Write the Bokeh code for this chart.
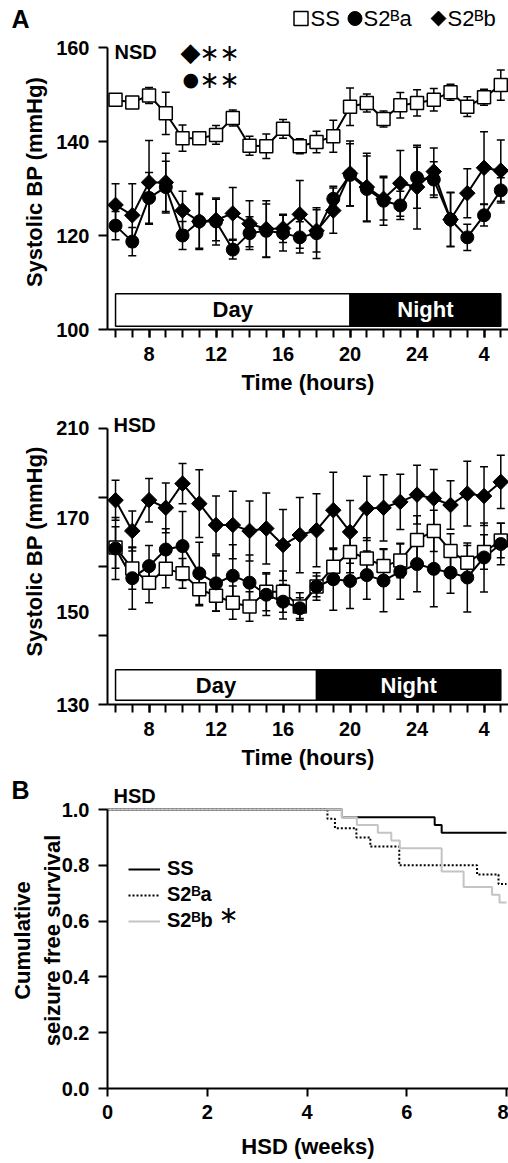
import numpy as np
from bokeh.plotting import figure
from bokeh.models import (ColumnDataSource, FixedTicker, Label, Legend, LegendItem,
                          TeeHead, Whisker, Range1d)
from bokeh.layouts import column
from bokeh.embed import file_html
from bokeh.resources import INLINE
from bokeh.core.properties import value

# ---------------- data ----------------
hours = list(range(6, 30))
hour_tick_values = [8, 12, 16, 20, 24, 28]
hour_tick_labels = ["8", "12", "16", "20", "24", "4"]

nsd_ss = [148.9, 148.3, 149.8, 146.0, 140.7, 140.7, 141.4, 145.0, 139.1, 139.0, 142.7, 139.0,
          139.9, 141.1, 147.4, 148.2, 144.8, 147.7, 148.2, 148.9, 150.5, 147.4, 149.4, 152.0]
nsd_ss_err = [0.5, 0.5, 1.7, 4.5, 2.8, 0.6, 2.0, 1.7, 2.0, 2.6, 2.0, 1.6,
              2.3, 3.4, 4.0, 1.9, 1.7, 2.7, 2.8, 2.4, 1.7, 2.1, 1.7, 3.2]
nsd_a = [122.1, 118.7, 128.0, 130.3, 120.0, 123.0, 123.0, 117.0, 120.5, 121.0, 120.5, 119.6,
         120.5, 127.8, 132.9, 129.9, 127.4, 126.4, 132.3, 131.9, 123.4, 119.6, 124.3, 129.6]
nsd_a_err = [3.0, 3.0, 5.4, 5.5, 3.0, 6.0, 5.0, 2.0, 3.5, 5.7, 3.8, 3.3,
             5.4, 2.7, 6.6, 7.0, 5.2, 3.0, 6.5, 3.8, 5.7, 2.8, 2.3, 2.7]
nsd_b = [126.5, 124.3, 131.3, 131.3, 125.3, 123.0, 123.3, 124.7, 122.5, 121.4, 121.5, 124.5,
         121.0, 125.3, 133.2, 130.3, 127.8, 131.1, 130.3, 133.6, 123.4, 129.0, 134.4, 133.8]
nsd_b_err = [4.5, 6.7, 8.9, 6.2, 4.1, 5.7, 4.4, 5.5, 4.9, 6.0, 3.0, 7.2,
             4.5, 4.8, 6.9, 7.2, 4.5, 7.0, 8.9, 5.0, 5.8, 5.2, 7.7, 6.5]

hsd_ss = [175.5, 169.4, 165.3, 169.3, 168.0, 163.4, 161.5, 159.5, 158.4, 162.7, 162.7, 158.4,
          164.2, 169.9, 174.2, 172.3, 170.1, 171.7, 177.7, 180.3, 174.5, 171.1, 174.2, 177.5]
hsd_ss_err = [6.0, 6.0, 5.8, 5.5, 4.3, 4.8, 4.5, 4.8, 4.3, 5.5, 6.0, 4.0,
              4.0, 5.0, 6.0, 6.0, 5.0, 5.0, 7.0, 6.0, 5.0, 5.0, 5.0, 5.0]
hsd_a = [175.2, 166.6, 170.1, 174.9, 175.9, 168.0, 165.1, 167.3, 165.3, 161.8, 159.8, 157.9,
         164.2, 166.3, 165.8, 167.5, 165.9, 168.5, 170.7, 169.3, 168.2, 166.8, 172.6, 176.5]
hsd_a_err = [9.0, 9.0, 6.0, 6.0, 10.0, 9.0, 8.0, 9.0, 8.0, 6.0, 5.0, 3.0,
             3.0, 9.0, 8.0, 7.0, 9.0, 8.0, 8.0, 11.0, 6.0, 10.0, 10.0, 6.0]
hsd_b = [189.2, 180.3, 189.2, 187.0, 194.0, 188.2, 182.0, 182.0, 180.3, 181.0, 176.2, 179.1,
         180.5, 186.3, 180.0, 186.8, 187.0, 188.7, 190.8, 189.7, 187.8, 191.1, 190.4, 194.5]
hsd_b_err = [5.8, 5.8, 6.3, 7.2, 5.8, 9.8, 8.4, 9.8, 8.7, 10.3, 10.3, 10.9,
             10.6, 11.0, 9.1, 9.3, 9.6, 8.0, 8.5, 8.4, 7.0, 9.4, 8.5, 7.7]

period_names = ["Day", "Night"]
nsd_period_edges = [6, 20, 29]
hsd_period_edges = [6, 18, 29]
nsd_bar_span = [100.7, 107.6]
hsd_bar_span = [131.2, 140.1]

nsd_y_ticks = [100, 120, 140, 160]
hsd_y_tick_marks = [130, 150, 170, 190, 210]
hsd_y_label_pos = [130, 156.9, 184.0, 210]
hsd_y_label_text = ["130", "150", "170", "210"]

series_names = ["SS", "S2\u1d2ea", "S2\u1d2eb"]

# Kaplan-Meier (seizure-free survival on HSD)
km_ss_t = [0, 4.70, 6.56, 6.70, 8.0]
km_ss_s = [1.0, 0.972, 0.944, 0.917, 0.917]
km_a_t = [0, 4.41, 4.56, 4.99, 5.27, 5.85, 7.41, 7.84, 8.0]
km_a_s = [1.0, 0.967, 0.933, 0.900, 0.867, 0.800, 0.767, 0.733, 0.733]
km_b_t = [0, 4.70, 5.00, 5.42, 5.69, 5.86, 6.70, 7.14, 7.71, 7.86, 8.0]
km_b_s = [1.0, 0.972, 0.944, 0.917, 0.889, 0.861, 0.778, 0.722, 0.694, 0.667, 0.667]
km_x_ticks = [0, 2, 4, 6, 8]
km_y_ticks = [0.0, 0.2, 0.4, 0.6, 0.8, 1.0]

FONT = "Liberation Sans"
SYM = "DejaVu Sans"
GRAY = "#c4c4c4"
W = 508


def no_align(p):
    try:
        p.frame_align = False
    except Exception:
        pass


def style_axes(p):
    for ax in (p.xaxis[0], p.yaxis[0]):
        ax.axis_line_width = 2
        ax.axis_line_color = "black"
        ax.major_tick_line_width = 2
        ax.minor_tick_line_width = 2
        ax.major_tick_in = 0
        ax.minor_tick_in = 0
        ax.major_label_text_font = FONT
        ax.major_label_text_font_style = "bold"
        ax.major_label_text_font_size = "20px"
        ax.major_label_text_color = "black"
        ax.axis_label_text_font = FONT
        ax.axis_label_text_font_style = "bold"
        ax.axis_label_text_font_size = "22px"
        ax.axis_label_text_color = "black"
    p.xaxis[0].major_tick_out = 8
    p.xaxis[0].minor_tick_out = 8
    p.xaxis[0].major_label_standoff = 9
    p.xaxis[0].axis_label_standoff = 6
    p.yaxis[0].major_tick_out = 9
    p.yaxis[0].minor_tick_out = 9
    p.yaxis[0].major_label_standoff = 9
    p.yaxis[0].axis_label_standoff = 6
    p.xgrid.visible = False
    p.ygrid.visible = False
    p.outline_line_color = None


def add_label(p, text, px, py, fl, fb, size, style="normal", font=FONT, color="black", align="left"):
    p.add_layout(Label(x=px - fl, y=fb - py, x_units="screen", y_units="screen", text=text,
                       text_font=font, text_font_size=f"{size}px", text_font_style=style,
                       text_color=color, text_align=align, text_baseline="middle"))


def header(height):
    h = figure(width=W, height=height, x_range=Range1d(0, W), y_range=Range1d(height, 0),
               x_axis_type=None, y_axis_type=None, title=None, toolbar_location=None,
               output_backend="svg", min_border_left=0, min_border_right=0,
               min_border_top=0, min_border_bottom=0)
    h.outline_line_color = None
    h.grid.visible = False
    no_align(h)
    return h


def bp_panel(height, bot_b, y_range, bounds, ss, sse, a, ae, b, be, edges, span):
    p = figure(width=W, height=height, x_range=Range1d(5.52, 29.46), y_range=y_range,
               output_backend="svg", toolbar_location=None, title=None,
               min_border_left=107, min_border_right=0, min_border_top=0, min_border_bottom=bot_b,
               x_axis_label="Time (hours)", y_axis_label="Systolic BP (mmHg)")
    no_align(p)
    style_axes(p)
    p.yaxis[0].bounds = bounds
    p.xaxis[0].ticker = FixedTicker(ticks=hour_tick_values, minor_ticks=hours)
    p.xaxis[0].major_label_overrides = {v: l for v, l in zip(hour_tick_values, hour_tick_labels)}

    # day / night bar
    p.quad(left=edges[:-1], right=edges[1:], bottom=span[0], top=span[1],
           fill_color=["white", "black"], line_color="black", line_width=1.5)
    p.text(x=[(edges[i] + edges[i + 1]) / 2 for i in range(2)], y=[(span[0] + span[1]) / 2] * 2,
           text=period_names, text_color=["black", "white"], text_align="center",
           text_baseline="middle", text_font=value(FONT), text_font_style="bold",
           text_font_size="22px")

    srcs = []
    for vals, errs in ((ss, sse), (a, ae), (b, be)):
        v = np.array(vals); e = np.array(errs)
        srcs.append(ColumnDataSource(dict(h=hours, v=v, lo=v - e, hi=v + e)))
    for s in srcs:
        w = Whisker(source=s, base="h", lower="lo", upper="hi", line_width=1.5, line_color="black",
                    upper_head=TeeHead(size=8, line_width=1.5, line_color="black"),
                    lower_head=TeeHead(size=8, line_width=1.5, line_color="black"))
        w.level = "underlay"
        p.add_layout(w)
    for s in srcs:
        p.line("h", "v", source=s, line_color="black", line_width=2)
    p.scatter("h", "v", source=srcs[0], marker="square", size=13, fill_color="white",
              line_color="black", line_width=1.5)
    p.scatter("h", "v", source=srcs[1], marker="circle", size=13, fill_color="black",
              line_color="black")
    p.scatter("h", "v", source=srcs[2], marker="square", angle=np.pi / 4, size=11,
              fill_color="black", line_color="black")
    return p


# ---------- header A (panel letter + legend) ----------
hA = header(34)
hA.text(x=[11], y=[18], text=["A"], text_font=value(FONT), text_font_style="bold",
        text_font_size="25px", text_baseline="middle", text_align="left")
hA.scatter(x=[300.5], y=[18], marker="square", size=14, fill_color="white", line_color="black",
           line_width=1.5)
hA.scatter(x=[354.5], y=[18], marker="circle", size=14, fill_color="black", line_color="black")
hA.scatter(x=[438], y=[18], marker="square", angle=np.pi / 4, size=10.5, fill_color="black",
           line_color="black")
hA.text(x=[310, 363, 447], y=[18, 18, 18], text=series_names, text_font=value(FONT),
        text_font_size="22px", text_baseline="middle", text_align="left")

# ---------- Panel A, NSD ----------
p1 = bp_panel(364, 69, Range1d(100, 160 + 13 / 4.7), (100, 160), nsd_ss, nsd_ss_err, nsd_a,
              nsd_a_err, nsd_b, nsd_b_err, nsd_period_edges, nsd_bar_span)
p1.yaxis[0].ticker = FixedTicker(ticks=nsd_y_ticks)
fl, fb = 107, 329
add_label(p1, "NSD", 114, 51, fl, fb, 20, "bold")
add_label(p1, "\u25c6", 180, 51, fl, fb, 26, font=SYM)
add_label(p1, "\u2217\u2217", 199, 52, fl, fb, 24, font=SYM)
add_label(p1, "\u25cf", 182, 78, fl, fb, 19, font=SYM)
add_label(p1, "\u2217\u2217", 199, 79, fl, fb, 24, font=SYM)

# ---------- Panel A, HSD ----------
p2 = bp_panel(374, 67, Range1d(130, 210 + 30 / 3.4625), (130, 210), hsd_ss, hsd_ss_err, hsd_a,
              hsd_a_err, hsd_b, hsd_b_err, hsd_period_edges, hsd_bar_span)
p2.yaxis[0].ticker = FixedTicker(ticks=hsd_y_label_pos, minor_ticks=hsd_y_tick_marks)
p2.yaxis[0].major_label_overrides = {v: l for v, l in zip(hsd_y_label_pos, hsd_y_label_text)}
p2.yaxis[0].major_tick_line_alpha = 0
add_label(p2, "HSD", 113, 425, 107, 705, 20, "bold")

# ---------- header B ----------
hB = header(40)
hB.text(x=[11], y=[17.5], text=["B"], text_font=value(FONT), text_font_style="bold",
        text_font_size="25px", text_baseline="middle", text_align="left")
hB.text(x=[113], y=[23], text=["HSD"], text_font=value(FONT), text_font_style="bold",
        text_font_size="20px", text_baseline="middle", text_align="left")

# ---------- Panel B ----------
p3 = figure(width=W, height=371, x_range=Range1d(0, 8.04), y_range=Range1d(0, 1.0 + 17 / 279),
            output_backend="svg", toolbar_location=None, title=None,
            min_border_left=107, min_border_right=0, min_border_top=0, min_border_bottom=75,
            x_axis_label="HSD (weeks)", y_axis_label="Cumulative\nseizure free survival")
no_align(p3)
p3.margin = (-20, 0, 0, 0)
p3.background_fill_alpha = 0
p3.border_fill_alpha = 0
style_axes(p3)
p3.yaxis[0].bounds = (0, 1)
p3.xaxis[0].ticker = FixedTicker(ticks=km_x_ticks)
p3.yaxis[0].ticker = FixedTicker(ticks=km_y_ticks)
p3.yaxis[0].major_label_overrides = {v: f"{v:.1f}" for v in km_y_ticks}
p3.yaxis[0].axis_label_standoff = -6
p3.xaxis[0].major_label_standoff = 8
p3.xaxis[0].axis_label_standoff = 12
r_ss = p3.step(km_ss_t, km_ss_s, mode="after", line_color="black", line_width=2)
r_a = p3.step(km_a_t, km_a_s, mode="after", line_color="black", line_width=2, line_dash="2 2")
r_b = p3.step(km_b_t, km_b_s, mode="after", line_color=GRAY, line_width=2)
leg = Legend(items=[LegendItem(label=series_names[0], renderers=[r_ss]),
                    LegendItem(label=series_names[1], renderers=[r_a]),
                    LegendItem(label=series_names[2], renderers=[r_b])],
             location=(21, 156), padding=0, margin=0, spacing=3, glyph_width=32, glyph_height=20,
             label_standoff=7, label_text_font=FONT, label_text_font_style="bold",
             label_text_font_size="20px", label_text_color="black",
             border_line_alpha=0, background_fill_alpha=0)
p3.add_layout(leg, "center")
add_label(p3, "\u2217", 218, 914, 107, 1088, 24, font=SYM)

layout = column(hA, p1, p2, hB, p3, spacing=0)
open("out.html", "w").write(file_html(layout, INLINE))
